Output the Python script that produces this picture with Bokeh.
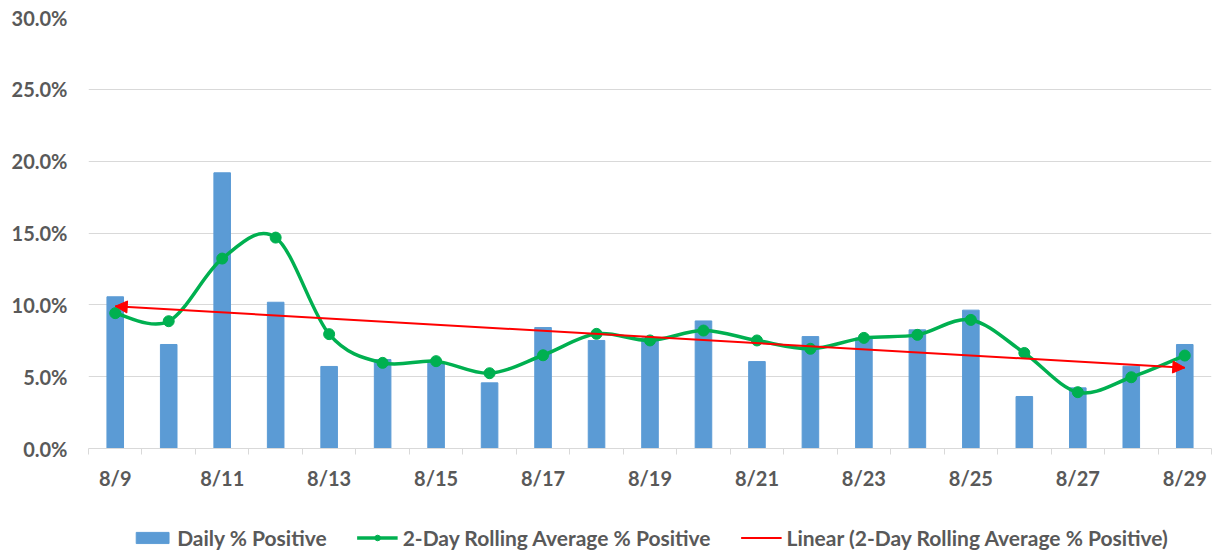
from bokeh.plotting import figure
from bokeh.models import (FixedTicker, Legend, LegendItem, Arrow, NormalHead,
                          ColumnDataSource)
from bokeh.layouts import column
from bokeh.embed import file_html
from bokeh.resources import INLINE

# ---- data ----
dates = ["8/9", "8/10", "8/11", "8/12", "8/13", "8/14", "8/15", "8/16", "8/17", "8/18",
         "8/19", "8/20", "8/21", "8/22", "8/23", "8/24", "8/25", "8/26", "8/27", "8/28", "8/29"]
daily_pct = [10.56, 7.24, 19.19, 10.18, 5.71, 6.19, 6.0, 4.57, 8.42, 7.52,
             7.7, 8.88, 6.05, 7.79, 7.7, 8.26, 9.63, 3.62, 4.22, 5.73, 7.24]
rolling_pct = [9.42, 8.86, 13.22, 14.68, 7.96, 5.96, 6.08, 5.24, 6.49, 7.98,
               7.52, 8.21, 7.52, 6.94, 7.70, 7.91, 8.95, 6.65, 3.92, 4.96, 6.47]
trend_ends = [9.90, 5.62]          # linear trend of the rolling average, first & last day
y_ticks = [0, 5, 10, 15, 20, 25, 30]
series_names = ["Daily % Positive", "2-Day Rolling Average % Positive",
                "Linear (2-Day Rolling Average % Positive)"]

TEXT = "#595959"
FONT = "Lato"
FSIZE = "20px"
LSIZE = "21px"
BLUE = "#5b9bd5"
GREEN = "#00b050"
RED = "#ff0000"
GRID = "#d9d9d9"

n = len(dates)
idx = list(range(n))

p = figure(width=1216, height=500, x_range=(-0.5, n - 0.5), y_range=(0, 30),
           output_backend="svg", toolbar_location=None,
           min_border_left=88, min_border_right=5, min_border_top=17,
           min_border_bottom=52)
p.outline_line_color = None
p.background_fill_color = "white"

bars = p.vbar(x=idx, top=daily_pct, width=0.31, fill_color=BLUE, line_color=BLUE)

# smoothed line (Bezier segments through the points, like a spreadsheet "smoothed line")
x0, y0, x1, y1, cx0, cy0, cx1, cy1 = [], [], [], [], [], [], [], []
for i in range(n - 1):
    ip = max(i - 1, 0)
    inn = min(i + 2, n - 1)
    x0.append(i); y0.append(rolling_pct[i])
    x1.append(i + 1); y1.append(rolling_pct[i + 1])
    cx0.append(i + (i + 1 - ip) / 6.0)
    cy0.append(rolling_pct[i] + (rolling_pct[i + 1] - rolling_pct[ip]) / 6.0)
    cx1.append(i + 1 - (inn - i) / 6.0)
    cy1.append(rolling_pct[i + 1] - (rolling_pct[inn] - rolling_pct[i]) / 6.0)
src = ColumnDataSource(dict(x0=x0, y0=y0, x1=x1, y1=y1, cx0=cx0, cy0=cy0, cx1=cx1, cy1=cy1))
p.bezier(x0="x0", y0="y0", x1="x1", y1="y1", cx0="cx0", cy0="cy0", cx1="cx1", cy1="cy1",
         source=src, line_color=GREEN, line_width=3.5)
p.scatter(x=idx, y=rolling_pct, size=11, fill_color=GREEN, line_color=GREEN)

# trend line with arrow heads at both ends
p.line(x=[idx[0], idx[-1]], y=trend_ends, line_color=RED, line_width=2)
arrow = Arrow(x_start=idx[0], y_start=trend_ends[0], x_end=idx[-1], y_end=trend_ends[1],
              line_color=RED, line_width=2, line_alpha=0,
              start=NormalHead(size=12, fill_color=RED, line_color=RED),
              end=NormalHead(size=12, fill_color=RED, line_color=RED))
p.add_layout(arrow)

# axes
p.xgrid.visible = False
p.ygrid.grid_line_color = GRID
p.ygrid.grid_line_width = 1
p.yaxis.ticker = FixedTicker(ticks=y_ticks)
p.yaxis.major_label_overrides = {t: f"{t:.1f}%" for t in y_ticks}
p.yaxis.axis_line_color = None
p.yaxis.major_tick_line_color = None
p.yaxis.minor_tick_line_color = None
p.yaxis.major_label_standoff = 15

p.xaxis.ticker = FixedTicker(ticks=idx[::2], minor_ticks=[i - 0.5 for i in range(n + 1)])
p.xaxis.major_label_overrides = {i: dates[i] for i in idx[::2]}
p.xaxis.axis_line_color = GRID
p.xaxis.axis_line_width = 1
p.xaxis.major_tick_line_color = None
p.xaxis.major_tick_out = 0
p.xaxis.major_tick_in = 0
p.xaxis.minor_tick_line_color = GRID
p.xaxis.minor_tick_out = 6
p.xaxis.minor_tick_in = 0
p.xaxis.major_label_standoff = 11

for ax in (p.xaxis, p.yaxis):
    ax.major_label_text_font = FONT
    ax.major_label_text_font_style = "bold"
    ax.major_label_text_font_size = FSIZE
    ax.major_label_text_color = TEXT

# ---- legend strip below the chart (same series, ranges chosen so only the legend shows) ----
q = figure(width=1216, height=55, x_range=(1000, 1001), y_range=(1000, 1001),
           output_backend="svg", toolbar_location=None,
           x_axis_type=None, y_axis_type=None,
           min_border_left=88, min_border_right=5, min_border_top=19, min_border_bottom=0)
q.outline_line_color = None
q.xgrid.visible = False
q.ygrid.visible = False
lb = q.vbar(x=idx, top=daily_pct, width=0.31, fill_color=BLUE, line_color=BLUE)
lg = q.line(x=idx, y=rolling_pct, line_color=GREEN, line_width=3.5)
lp = q.scatter(x=idx, y=rolling_pct, size=11, fill_color=GREEN, line_color=GREEN)
lr = q.line(x=[idx[0], idx[-1]], y=trend_ends, line_color=RED, line_width=2)

legend = Legend(items=[LegendItem(label=series_names[0], renderers=[lb]),
                       LegendItem(label=series_names[1], renderers=[lg, lp]),
                       LegendItem(label=series_names[2], renderers=[lr])],
                orientation="horizontal", location="center",
                border_line_color=None, background_fill_alpha=0,
                label_text_font=FONT, label_text_font_style="bold",
                label_text_font_size=LSIZE, label_text_color=TEXT,
                glyph_width=41, glyph_height=14, spacing=30, label_standoff=5,
                margin=0, padding=0)
q.add_layout(legend)

open("out.html", "w").write(file_html(column(p, q, spacing=0), INLINE))
